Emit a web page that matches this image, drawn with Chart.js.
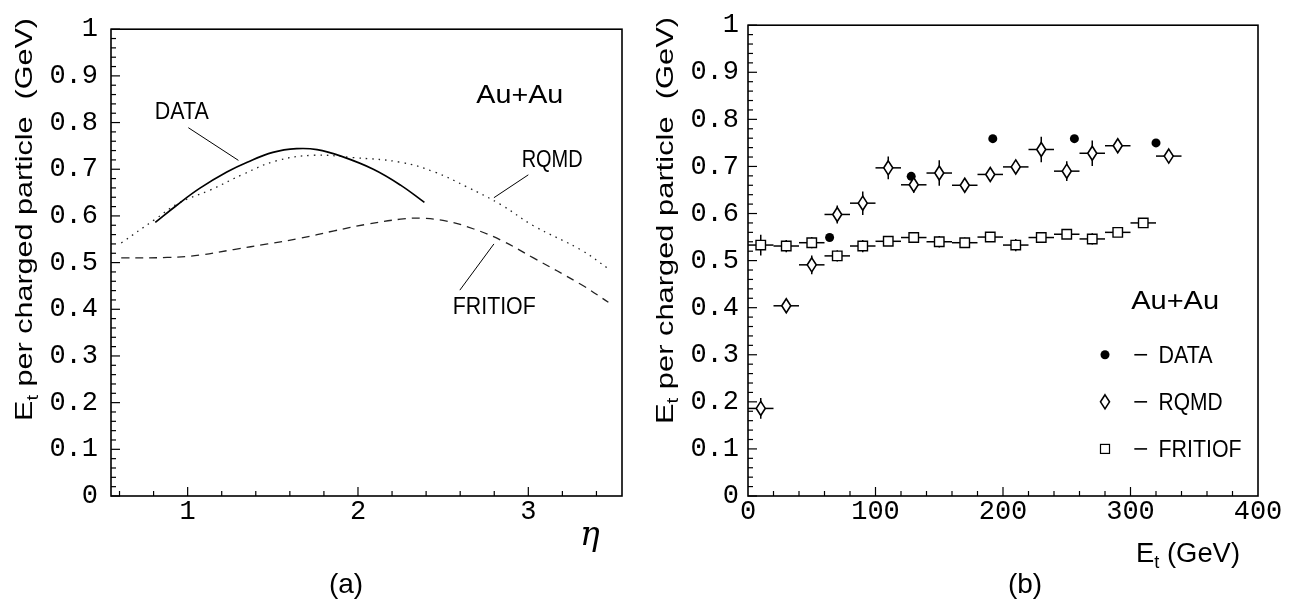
<!DOCTYPE html>
<html>
<head>
<meta charset="utf-8">
<title>Et per charged particle - Au+Au</title>
<script src="https://cdn.jsdelivr.net/npm/chart.js@4.4.1/dist/chart.umd.min.js"></script>
<style>
    body { margin: 0; background: #fff; }
    canvas { position: absolute; left: 0; top: 0; }
</style>
</head>
<body>
<canvas id="etaChart" width="1297" height="605"></canvas>
<canvas id="etChart" width="1297" height="605"></canvas>
<script>
// ----------------------------------------------------
// Panel (a): Et per charged particle vs eta (curves)
// ----------------------------------------------------
const etaData = [0.81, 0.94, 1.07, 1.23, 1.35, 1.50, 1.64, 1.76, 1.90, 2.09, 2.25, 2.39];
const curveData = [0.586, 0.624, 0.659, 0.694, 0.715, 0.736, 0.744, 0.742, 0.728, 0.700, 0.666, 0.629];

const etaRqmd = [0.61, 0.81, 0.95, 1.13, 1.33, 1.52, 1.74, 1.97, 2.25, 2.45, 2.64, 2.84, 3.03, 3.31, 3.47];
const curveRqmd = [0.542, 0.593, 0.628, 0.655, 0.690, 0.718, 0.730, 0.725, 0.715, 0.694, 0.662, 0.624, 0.579, 0.527, 0.487];

const etaFritiof = [0.61, 0.88, 1.07, 1.27, 1.47, 1.66, 1.86, 2.05, 2.25, 2.37, 2.52, 2.68, 2.84, 3.03, 3.31, 3.47];
const curveFritiof = [0.510, 0.511, 0.516, 0.528, 0.540, 0.552, 0.568, 0.582, 0.593, 0.595, 0.589, 0.572, 0.548, 0.510, 0.453, 0.415];

// ----------------------------------------------------
// Panel (b): Et per charged particle vs Et (points)
// ----------------------------------------------------
const dataEt = [64, 128, 192, 256, 320];
const dataVal = [0.549, 0.679, 0.759, 0.759, 0.750];

const rqmdEt = [10, 30, 50, 70, 90, 110, 130, 150, 170, 190, 210, 230, 250, 270, 290, 330];
const rqmdVal = [0.186, 0.404, 0.491, 0.598, 0.622, 0.697, 0.661, 0.686, 0.660, 0.683, 0.699, 0.736, 0.690, 0.728, 0.744, 0.722];
const rqmdErr = [0.022, 0.014, 0.020, 0.019, 0.025, 0.024, 0.017, 0.027, 0.012, 0.012, 0.012, 0.027, 0.021, 0.027, 0.013, 0.012];

const fritiofEt = [10, 30, 50, 70, 90, 110, 130, 150, 170, 190, 210, 230, 250, 270, 290, 310];
const fritiofVal = [0.533, 0.531, 0.538, 0.510, 0.531, 0.541, 0.549, 0.540, 0.538, 0.550, 0.533, 0.549, 0.556, 0.546, 0.560, 0.580];
const fritiofErr = [0.022, 0.013, 0.012, 0.012, 0.013, 0.010, 0.010, 0.012, 0.011, 0.010, 0.013, 0.010, 0.010, 0.012, 0.010, 0.010];

const binHalfWidth = 10;

// axis ticks
const yTicks = [0, 0.1, 0.2, 0.3, 0.4, 0.5, 0.6, 0.7, 0.8, 0.9, 1];
const etaTicks = [1, 2, 3];
const etTicks = [0, 100, 200, 300, 400];

// annotation text for panel (a), placed in data space
const etaNotes = [
    { text: 'DATA', x: 0.965, y: 0.808, size: 23, width: 54, line: [1.004, 0.789, 1.298, 0.719] },
    { text: 'RQMD', x: 3.14, y: 0.704, size: 24, width: 61, line: [3.0, 0.688, 2.798, 0.639] },
    { text: 'FRITIOF', x: 2.80, y: 0.389, size: 23, width: 83, line: [2.798, 0.540, 2.598, 0.441] },
    { text: 'Au+Au', x: 2.95, y: 0.842, size: 26, width: 87 }
];

const SANS = '"Liberation Sans", Arial, Helvetica, sans-serif';
const MONO = '"Liberation Mono", "Courier New", monospace';

const zip = (xs, ys) => xs.map((x, i) => ({ x: x, y: ys[i] }));

// open tall diamond (RQMD marker)
function diamondPath(ctx, cx, cy) {
    ctx.save();
    ctx.beginPath();
    ctx.moveTo(cx, cy - 7);
    ctx.lineTo(cx + 4.5, cy);
    ctx.lineTo(cx, cy + 7);
    ctx.lineTo(cx - 4.5, cy);
    ctx.closePath();
    ctx.fillStyle = '#fff';
    ctx.fill();
    ctx.strokeStyle = '#000';
    ctx.lineWidth = 1.6;
    ctx.stroke();
    ctx.restore();
}

// text stretched horizontally to a measured width
function fitText(ctx, str, cx, baseY, size, width) {
    ctx.save();
    ctx.font = size + 'px ' + SANS;
    const w = ctx.measureText(str).width;
    ctx.translate(cx, baseY);
    ctx.scale(width / w, 1);
    ctx.textAlign = 'center';
    ctx.textBaseline = 'alphabetic';
    ctx.fillStyle = '#000';
    ctx.fillText(str, 0, 0);
    ctx.restore();
}

// "E" with subscript t followed by the rest, drawn from the current origin
function drawEt(ctx, rest, size, width) {
    const big = size + 'px ' + SANS;
    const small = Math.round(size * 0.66) + 'px ' + SANS;
    ctx.font = big;
    const wE = ctx.measureText('E').width;
    const wRest = ctx.measureText(rest).width;
    ctx.font = small;
    const wt = ctx.measureText('t').width;
    ctx.scale(width / (wE + wt + wRest), 1);
    ctx.textAlign = 'left';
    ctx.textBaseline = 'alphabetic';
    ctx.fillStyle = '#000';
    ctx.font = big;
    ctx.fillText('E', 0, 0);
    ctx.font = small;
    ctx.fillText('t', wE, size * 0.24);
    ctx.font = big;
    ctx.fillText(rest, wE + wt, 0);
}

function line(ctx, x0, y0, x1, y1) {
    ctx.beginPath();
    ctx.moveTo(x0, y0);
    ctx.lineTo(x1, y1);
    ctx.stroke();
}

// frame plus inward ticks, ROOT style
function frameTicks(minorX, isMajorX) {
    return {
        id: 'frameTicks',
        afterDraw(chart) {
            const { ctx, chartArea: a, scales: { x, y } } = chart;
            ctx.save();
            ctx.strokeStyle = '#000';
            ctx.lineWidth = 1.2;
            for (let i = 0; i <= 50; i++) {
                const py = y.getPixelForValue(i * 0.02);
                line(ctx, a.left, py, a.left + (i % 5 === 0 ? 9 : 5), py);
            }
            minorX.forEach(v => {
                const px = x.getPixelForValue(v);
                line(ctx, px, a.bottom, px, a.bottom - (isMajorX(v) ? 9 : 5));
            });
            ctx.lineWidth = 1.6;
            ctx.strokeRect(a.left, a.top, a.right - a.left, a.bottom - a.top);
            ctx.restore();
        }
    };
}

function yAxis(width, pad) {
    return {
        min: 0,
        max: 1,
        afterBuildTicks: s => { s.ticks = yTicks.map(v => ({ value: v })); },
        afterFit: s => { s.width = width; },
        grid: { display: false, drawTicks: false },
        border: { display: false },
        ticks: {
            color: '#000',
            padding: pad,
            font: { family: MONO, size: 27 },
            callback: v => (v === 0 || v === 1) ? String(v) : v.toFixed(1)
        }
    };
}

function xAxis(min, max, tickVals) {
    return {
        type: 'linear',
        min: min,
        max: max,
        afterBuildTicks: s => { s.ticks = tickVals.map(v => ({ value: v })); },
        afterFit: s => { s.height = 109; },
        grid: { display: false, drawTicks: false },
        border: { display: false },
        ticks: {
            color: '#000',
            padding: 0,
            maxRotation: 0,
            font: { family: MONO, size: 27 },
            callback: v => String(v)
        }
    };
}

const baseOptions = {
    responsive: false,
    animation: false,
    events: [],
    plugins: { legend: { display: false }, tooltip: { enabled: false } }
};

// ----------------------------------------------------
// Panel (a)
// ----------------------------------------------------
const etaLabels = {
    id: 'etaLabels',
    afterDraw(chart) {
        const { ctx, scales: { x, y } } = chart;
        ctx.save();
        ctx.strokeStyle = '#000';
        ctx.lineWidth = 1;
        etaNotes.forEach(n => {
            fitText(ctx, n.text, x.getPixelForValue(n.x), y.getPixelForValue(n.y), n.size, n.width);
            if (n.line) {
                line(ctx, x.getPixelForValue(n.line[0]), y.getPixelForValue(n.line[1]),
                    x.getPixelForValue(n.line[2]), y.getPixelForValue(n.line[3]));
            }
        });

        // y title
        ctx.save();
        ctx.translate(32, 421);
        ctx.rotate(-Math.PI / 2);
        drawEt(ctx, ' per charged particle  (GeV)', 24, 403);
        ctx.restore();

        // eta symbol and panel tag
        ctx.font = 'italic 33px "DejaVu Serif", serif';
        ctx.textAlign = 'center';
        ctx.textBaseline = 'alphabetic';
        ctx.fillStyle = '#000';
        ctx.fillText('\u03B7', 590, 545);
        ctx.font = '28px ' + SANS;
        ctx.fillText('(a)', 346, 593);
        ctx.restore();
    }
};

const curveStyle = {
    pointRadius: 0,
    tension: 0.4,
    fill: false
};

new Chart(document.getElementById('etaChart'), {
    type: 'line',
    data: {
        datasets: [
            Object.assign({
                label: 'DATA',
                data: zip(etaData, curveData),
                borderColor: '#000',
                borderWidth: 1.7
            }, curveStyle),
            Object.assign({
                label: 'RQMD',
                data: zip(etaRqmd, curveRqmd),
                borderColor: '#222',
                borderWidth: 1.3,
                borderDash: [1.5, 5]
            }, curveStyle),
            Object.assign({
                label: 'FRITIOF',
                data: zip(etaFritiof, curveFritiof),
                borderColor: '#222',
                borderWidth: 1.3,
                borderDash: [8, 6]
            }, curveStyle)
        ]
    },
    options: Object.assign({}, baseOptions, {
        layout: { autoPadding: false, padding: { left: 0, right: 675, top: 16, bottom: 0 } },
        scales: { x: xAxis(0.55, 3.55, etaTicks), y: yAxis(111, 13) }
    }),
    plugins: [
        frameTicks([0.6, 0.8, 1, 1.2, 1.4, 1.6, 1.8, 2, 2.2, 2.4, 2.6, 2.8, 3, 3.2, 3.4],
            v => Math.abs(v - Math.round(v)) < 1e-6),
        etaLabels
    ]
});

// ----------------------------------------------------
// Panel (b)
// ----------------------------------------------------
const errorBars = {
    id: 'errorBars',
    beforeDatasetsDraw(chart) {
        const { ctx, scales: { x, y } } = chart;
        ctx.save();
        ctx.strokeStyle = '#000';
        ctx.lineWidth = 1.5;
        chart.data.datasets.forEach(ds => {
            if (!ds.errY) return;
            ds.data.forEach((p, i) => {
                const px = x.getPixelForValue(p.x);
                const py = y.getPixelForValue(p.y);
                line(ctx, x.getPixelForValue(p.x - binHalfWidth), py, x.getPixelForValue(p.x + binHalfWidth), py);
                line(ctx, px, y.getPixelForValue(p.y - ds.errY[i]), px, y.getPixelForValue(p.y + ds.errY[i]));
            });
        });
        ctx.restore();
    },
    // diamonds drawn on the positions Chart.js computed for the RQMD points
    afterDatasetDraw(chart, args) {
        if (!chart.data.datasets[args.index].diamond) return;
        args.meta.data.forEach(pt => diamondPath(chart.ctx, pt.x, pt.y));
    }
};

const etLegend = {
    id: 'etLegend',
    afterDraw(chart) {
        const { ctx, scales: { x, y } } = chart;
        ctx.save();
        fitText(ctx, 'Au+Au', x.getPixelForValue(335), y.getPixelForValue(0.398), 26, 88);

        const mx = x.getPixelForValue(280);
        const rows = [
            { v: 0.3, text: 'DATA', width: 54 },
            { v: 0.2, text: 'RQMD', width: 64 },
            { v: 0.1, text: 'FRITIOF', width: 83 }
        ];
        rows.forEach((r, i) => {
            const py = y.getPixelForValue(r.v);
            if (i === 0) {
                ctx.fillStyle = '#000';
                ctx.beginPath();
                ctx.arc(mx, py, 4.5, 0, Math.PI * 2);
                ctx.fill();
            } else if (i === 1) {
                diamondPath(ctx, mx, py);
            } else {
                ctx.strokeStyle = '#000';
                ctx.lineWidth = 1.2;
                ctx.strokeRect(mx - 4.5, py - 4.5, 9, 9);
            }
            ctx.strokeStyle = '#000';
            ctx.lineWidth = 1.6;
            line(ctx, x.getPixelForValue(303), py, x.getPixelForValue(313), py);
            fitText(ctx, r.text, x.getPixelForValue(322) + r.width / 2, py + 8, 23, r.width);
        });

        // axis titles
        ctx.save();
        ctx.translate(672.5, 424);
        ctx.rotate(-Math.PI / 2);
        drawEt(ctx, ' per charged particle  (GeV)', 24, 407);
        ctx.restore();

        ctx.save();
        ctx.translate(1136, 562);
        drawEt(ctx, ' (GeV)', 27, 104);
        ctx.restore();

        ctx.font = '28px ' + SANS;
        ctx.textAlign = 'center';
        ctx.textBaseline = 'alphabetic';
        ctx.fillStyle = '#000';
        ctx.fillText('(b)', 1025, 593);
        ctx.restore();
    }
};

new Chart(document.getElementById('etChart'), {
    type: 'scatter',
    data: {
        datasets: [
            {
                label: 'FRITIOF',
                data: zip(fritiofEt, fritiofVal),
                errY: fritiofErr,
                pointStyle: 'rect',
                pointRadius: 6.7,
                borderWidth: 1.4,
                borderColor: '#000',
                backgroundColor: '#fff'
            },
            {
                label: 'RQMD',
                data: zip(rqmdEt, rqmdVal),
                errY: rqmdErr,
                diamond: true,
                pointRadius: 5,
                borderColor: 'rgba(0,0,0,0)',
                backgroundColor: 'rgba(0,0,0,0)'
            },
            {
                label: 'DATA',
                data: zip(dataEt, dataVal),
                pointStyle: 'circle',
                pointRadius: 4.5,
                borderWidth: 0,
                backgroundColor: '#000'
            }
        ]
    },
    options: Object.assign({}, baseOptions, {
        layout: { autoPadding: false, padding: { left: 648, right: 39, top: 16, bottom: 0 } },
        scales: { x: xAxis(0, 400, etTicks), y: yAxis(100, 9) }
    }),
    plugins: [
        frameTicks([20, 40, 60, 80, 100, 120, 140, 160, 180, 200, 220, 240, 260, 280, 300, 320, 340, 360, 380],
            v => v % 100 === 0),
        errorBars,
        etLegend
    ]
});
</script>
</body>
</html>
